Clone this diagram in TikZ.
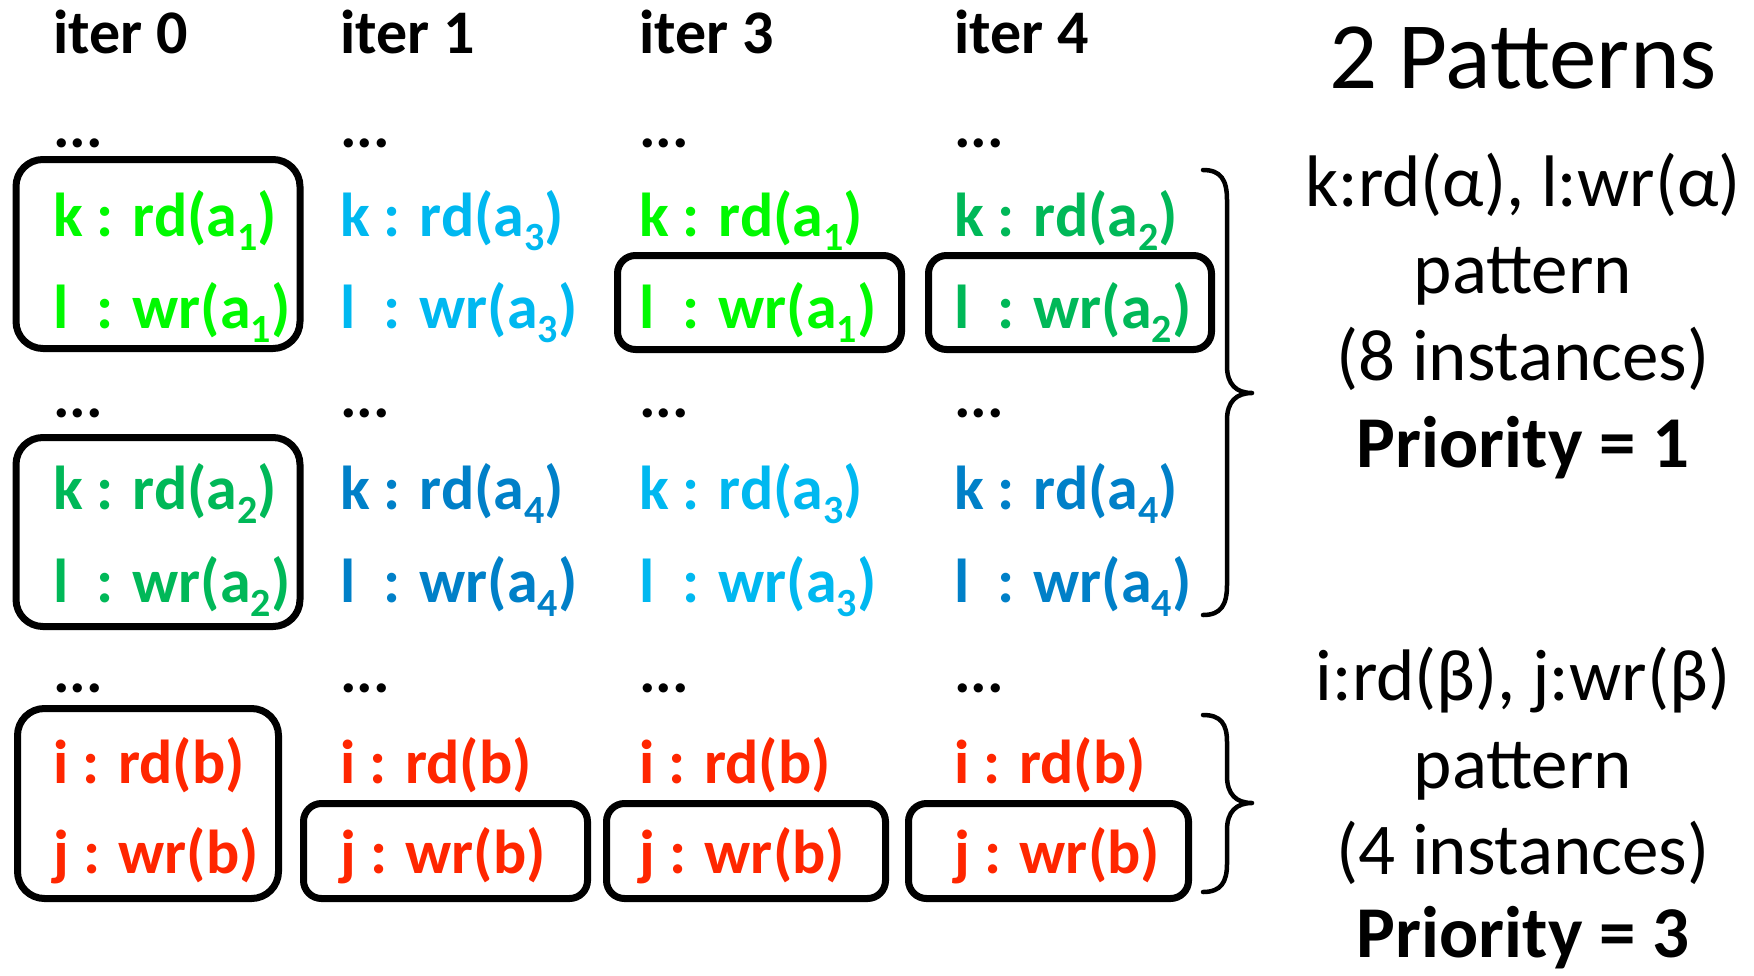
\documentclass[tikz,border=0pt]{standalone}
\usepackage{fontspec}
\setmainfont{Carlito}
\definecolor{lime}{HTML}{00F900}
\definecolor{grn}{HTML}{00B858}
\definecolor{cyn}{HTML}{00B8F0}
\definecolor{blu}{HTML}{0080C8}
\definecolor{red2}{HTML}{FF2600}
\newcommand\sbs[1]{\raisebox{-14pt}{\fontsize{40}{40}\selectfont #1}}
\newcommand\lpad{\rlap{l}\hphantom{k}}
\tikzset{
  lab/.style={anchor=base west, inner sep=0pt, font=\fontsize{62}{62}\selectfont\bfseries},
  bigbox/.style={draw, line width=7pt, rounded corners=27pt, inner sep=0pt},
  smallbox/.style={draw, line width=7pt, rounded corners=18pt, inner sep=0pt},
  rt/.style={anchor=base, inner sep=0pt, font=\fontsize{73}{73}\selectfont},
  rtb/.style={rt, font=\fontsize{73}{73}\selectfont\bfseries},
  brc/.style={line width=4.5pt, line cap=round, line join=round}
}
\begin{document}
\begin{tikzpicture}[x=1pt,y=-1pt]
\useasboundingbox (0,0) rectangle (1754,975);
% boxes
\node[bigbox, minimum width=284pt, minimum height=189pt] (boxA) at (158,254) {};
\node[bigbox, minimum width=284pt, minimum height=189pt] (boxB) at (158,532) {};
\node[smallbox, minimum width=284pt, minimum height=94pt] (boxC) at (759.5,302.5) {};
\node[smallbox, minimum width=283pt, minimum height=94pt] (boxD) at (1070,302.5) {};
\node[bigbox, minimum width=261pt, minimum height=190pt] (boxE) at (148,803.5) {};
\node[smallbox, minimum width=284pt, minimum height=95pt] (boxF) at (445.5,851) {};
\node[smallbox, minimum width=279pt, minimum height=95pt] (boxG) at (746,851) {};
\node[smallbox, minimum width=280pt, minimum height=95pt] (boxH) at (1048.5,851) {};
% headers
\node[lab] (it0) at (53,53) {iter 0};
\node[lab] (it1) at (340,53) {iter 1};
\node[lab] (it3) at (639,53) {iter 3};
\node[lab] (it4) at (954,53) {iter 4};
% dots
\foreach \c/\x in {0/53,1/340,2/639,3/954}{
  \node[lab] (dA\c) at (\x,147) {...};
  \node[lab] (dB\c) at (\x,417) {...};
  \node[lab] (dC\c) at (\x,692) {...};
}
% row 1
\node[lab, text=lime] (k10) at (53,236) {k : rd(a\sbs{1})};
\node[lab, text=lime] (l10) at (53,328) {\lpad{} : wr(a\sbs{1})};
\node[lab, text=cyn] (k11) at (340,236) {k : rd(a\sbs{3})};
\node[lab, text=cyn] (l11) at (340,328) {\lpad{} : wr(a\sbs{3})};
\node[lab, text=lime] (k12) at (639,236) {k : rd(a\sbs{1})};
\node[lab, text=lime] (l12) at (639,328) {\lpad{} : wr(a\sbs{1})};
\node[lab, text=grn] (k13) at (954,236) {k : rd(a\sbs{2})};
\node[lab, text=grn] (l13) at (954,328) {\lpad{} : wr(a\sbs{2})};
% row 2
\node[lab, text=grn] (k20) at (53,509) {k : rd(a\sbs{2})};
\node[lab, text=grn] (l20) at (53,602) {\lpad{} : wr(a\sbs{2})};
\node[lab, text=blu] (k21) at (340,509) {k : rd(a\sbs{4})};
\node[lab, text=blu] (l21) at (340,602) {\lpad{} : wr(a\sbs{4})};
\node[lab, text=cyn] (k22) at (639,509) {k : rd(a\sbs{3})};
\node[lab, text=cyn] (l22) at (639,602) {\lpad{} : wr(a\sbs{3})};
\node[lab, text=blu] (k23) at (954,509) {k : rd(a\sbs{4})};
\node[lab, text=blu] (l23) at (954,602) {\lpad{} : wr(a\sbs{4})};
% row 3
\foreach \c/\x in {0/53,1/340,2/639,3/954}{
  \node[lab, text=red2] (i3\c) at (\x,783) {i : rd(b)};
  \node[lab, text=red2] (j3\c) at (\x,873) {j : wr(b)};
}
% braces
\coordinate (b1t) at (1203,170);
\coordinate (b1m) at (1252,393);
\coordinate (b1b) at (1203,615);
\draw[brc] (b1t) .. controls (1221,170) and (1227,180) .. (1227,200)
  -- (1227,366) .. controls (1227,384) and (1236,393) .. (b1m)
  .. controls (1236,393) and (1227,402) .. (1227,420)
  -- (1227,585) .. controls (1227,605) and (1221,615) .. (b1b);
\coordinate (b2t) at (1203,715);
\coordinate (b2m) at (1252,803);
\coordinate (b2b) at (1203,892);
\draw[brc] (b2t) .. controls (1221,715) and (1227,724) .. (1227,742)
  -- (1227,776) .. controls (1227,794) and (1236,803) .. (b2m)
  .. controls (1236,803) and (1227,812) .. (1227,830)
  -- (1227,864) .. controls (1227,882) and (1221,892) .. (b2b);
% right text
\node[rt, font=\fontsize{95}{95}\selectfont] (title) at (1523,88) {2 Patterns};
\node[rt] (p1a) at (1523,206) {k:rd(α), l:wr(α)};
\node[rt] (p1b) at (1523,293) {pattern};
\node[rt] (p1c) at (1523,380) {(8 instances)};
\node[rtb] (p1d) at (1523,467) {Priority = 1};
\node[rt] (p2a) at (1523,700) {i:rd(β), j:wr(β)};
\node[rt] (p2b) at (1523,788) {pattern};
\node[rt] (p2c) at (1523,874) {(4 instances)};
\node[rtb] (p2d) at (1523,957) {Priority = 3};
\end{tikzpicture}
\end{document}
